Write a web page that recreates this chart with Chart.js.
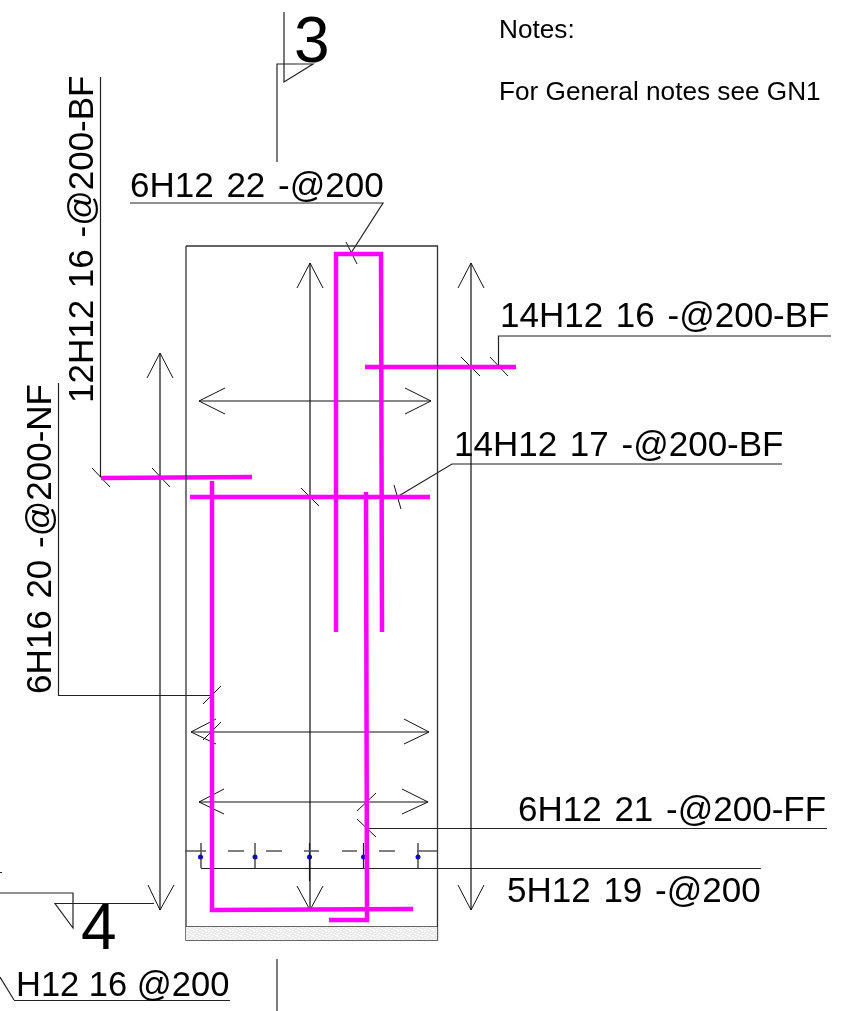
<!DOCTYPE html>
<html>
<head>
<meta charset="utf-8">
<title>Section 3-4</title>
<script src="https://cdn.jsdelivr.net/npm/chart.js@4/dist/chart.umd.min.js"></script>
<style>
  html, body { margin: 0; padding: 0; background: #fff; }
  canvas { display: block; }
</style>
</head>
<body>
<canvas id="chart-seccion" width="843" height="1011"></canvas>
<script>
// drawing units are the sheet's own x / y, each polyline is a list of [x, y]
const rebarBars = [
  [[336, 632], [336, 254], [381, 254], [382, 632]],
  [[365, 367], [516, 367]],
  [[101, 478], [252, 477]],
  [[190, 497], [430, 497]],
  [[212, 481], [212, 910], [413, 909]],
  [[366, 492], [367, 920], [329, 920]],
];

const concreteOutline = [
  [[186, 246], [437.5, 246], [437.5, 940], [186, 940], [186, 246]],
  [[186, 927], [437.5, 927]],
];

const coverBand = [[186, 927], [437.5, 927]];

const dimensionShafts = [
  [[310, 263], [310, 910]],
  [[160, 353], [160, 910]],
  [[471, 263], [471, 910]],
  [[199, 401], [431, 401]],
  [[191, 732], [429, 732]],
  [[199, 802], [428, 802]],
];

const arrowHeads = [
  [[297, 288], [310, 263], [323, 288]],
  [[297, 886], [310, 910], [323, 886]],
  [[147, 378], [160, 353], [173, 378]],
  [[148, 885], [160, 910], [174, 885]],
  [[458, 288], [471, 263], [484, 288]],
  [[458, 885], [471, 910], [484, 885]],
  [[225, 388], [199, 401], [225, 414]],
  [[405, 388], [431, 401], [405, 414]],
  [[216, 719], [191, 732], [216, 744]],
  [[404, 719], [429, 732], [404, 744]],
  [[224, 789], [199, 802], [224, 814]],
  [[402, 789], [428, 802], [402, 814]],
];

const barTicks = [
  [[92, 468], [110, 487]],
  [[152, 468], [170, 487]],
  [[301, 488], [319, 506]],
  [[394, 485], [401, 509]],
  [[346, 242], [357, 264]],
  [[461, 357], [480, 376]],
  [[490, 357], [508, 376]],
  [[203, 704], [221, 686]],
  [[203, 740], [221, 722]],
  [[357, 811], [376, 793]],
  [[357, 819], [376, 837]],
];

const leaderLines = [
  [[100.5, 77], [100.5, 477]],
  [[58.5, 383], [58.5, 695.5], [212, 695.5]],
  [[130, 203], [383, 203], [351, 253]],
  [[831, 336], [498.5, 336], [498.5, 367]],
  [[782, 464], [452, 464], [397, 497]],
  [[827, 828.5], [366, 828.5]],
  [[761, 868.5], [201, 868.5]],
  [[14, 1000.5], [230, 1000.5]],
  [[14, 1000], [0, 977]],
];

const sectionMarks = [
  [[284, 12], [284, 82], [313, 64], [277, 64], [277, 162]],
  [[0, 893], [73, 893], [73, 928], [55, 903.5], [154, 903.5]],
  [[277, 959], [277, 1011]],
  [[0, 872.5], [2, 872.5]],
];

const barPositionTicks = [
  [[201, 843], [201, 868]],
  [[255, 843], [255, 868]],
  [[309.5, 843], [309.5, 881]],
  [[363.5, 843], [363.5, 868]],
  [[418, 843], [418, 868]],
];

const hiddenLineDashes = [
  [[185, 851], [206, 851]],
  [[228, 851], [244, 851]],
  [[266, 851], [282, 851]],
  [[304, 851], [319, 851]],
  [[342, 851], [357, 851]],
  [[379, 851], [395, 851]],
  [[417, 851], [437, 851]],
];

const barDots = [[200.5, 857], [255, 857], [309.5, 857], [363.5, 857], [418, 857]];

const notesLabels = [
  ['Notes:', 499, 38],
  ['For General notes see GN1', 499, 100],
];

const barLabels = [
  ['6H12 22 -@200', 130, 197],
  ['14H12 16 -@200-BF', 500, 327],
  ['14H12 17 -@200-BF', 454, 456],
  ['6H12 21 -@200-FF', 518, 821],
  ['5H12 19 -@200', 507, 902],
];

const plainLabels = [
  ['H12 16 @200', 16, 996],
];

const sideLabels = [
  ['12H12 16 -@200-BF', 93, 403],
  ['6H16 20 -@200-NF', 51, 694],
];

const sectionLabels = [
  ['3', 294, 62],
  ['4', 81, 949],
];

const FONT = '"Liberation Sans", Arial, sans-serif';

function speckle(ctx) {
  const tile = document.createElement('canvas');
  tile.width = 12;
  tile.height = 6;
  const t = tile.getContext('2d');
  t.fillStyle = '#ececec';
  t.fillRect(0, 0, 12, 6);
  t.fillStyle = '#fdfdfd';
  [[1, 0], [4, 1], [7, 0], [10, 2], [2, 3], [6, 3], [9, 4], [0, 5], [4, 5], [11, 5]].forEach(s => t.fillRect(s[0], s[1], 2, 1));
  return ctx.createPattern(tile, 'repeat');
}

function lineSet(points, color, width, extra) {
  return Object.assign({
    data: points.map(p => ({ x: p[0], y: p[1] })),
    showLine: true,
    borderColor: color,
    borderWidth: width,
    pointRadius: 0,
    tension: 0,
    clip: false,
    fill: false,
    borderCapStyle: 'butt',
    borderJoinStyle: 'miter',
  }, extra || {});
}

const labelPlugin = {
  id: 'labelPlugin',
  afterDatasetsDraw(chart) {
    const { ctx, scales } = chart;
    const put = (list, size, angle, gap) => {
      ctx.save();
      ctx.fillStyle = '#000';
      ctx.font = `${size}px ${FONT}`;
      ctx.wordSpacing = `${gap}px`;
      ctx.textAlign = 'left';
      ctx.textBaseline = 'alphabetic';
      list.forEach(l => {
        ctx.save();
        ctx.translate(scales.x.getPixelForValue(l[1]), scales.y.getPixelForValue(l[2]));
        ctx.rotate(angle);
        ctx.fillText(l[0], 0, 0);
        ctx.restore();
      });
      ctx.restore();
    };
    put(notesLabels, 26.2, 0, 0);
    put(barLabels, 35, 0, 3);
    put(plainLabels, 34.5, 0, 0);
    put(sideLabels, 35, -Math.PI / 2, 2);
    put(sectionLabels, 64, 0, 0);
  },
};

const canvas = document.getElementById('chart-seccion');
const datasets = [
  lineSet(coverBand, 'rgba(0,0,0,0)', 0, { fill: { target: { value: 940 } }, backgroundColor: speckle(canvas.getContext('2d')) }),
  ...hiddenLineDashes.map(l => lineSet(l, '#555', 1.5)),
  ...concreteOutline.map(l => lineSet(l, '#333', 1.3)),
  ...rebarBars.map(l => lineSet(l, '#ff00ff', 4.5)),
  ...dimensionShafts.map(l => lineSet(l, '#111', 1.2)),
  ...arrowHeads.map(l => lineSet(l, '#111', 1)),
  ...barTicks.map(l => lineSet(l, '#111', 1)),
  ...leaderLines.map(l => lineSet(l, '#222', 1.2)),
  ...sectionMarks.map(l => lineSet(l, '#222', 1.2)),
  ...barPositionTicks.map(l => lineSet(l, '#222', 1.2)),
  {
    data: barDots.map(p => ({ x: p[0], y: p[1] })),
    showLine: false,
    pointRadius: 2.5,
    pointBackgroundColor: '#0000ff',
    pointBorderWidth: 0,
    clip: false,
  },
];

new Chart(canvas, {
  type: 'scatter',
  data: { datasets },
  options: {
    responsive: false,
    animation: false,
    layout: { padding: 0, autoPadding: false },
    plugins: { legend: { display: false }, tooltip: { enabled: false }, title: { display: false } },
    scales: {
      x: { type: 'linear', min: 0, max: 843, display: false },
      y: { type: 'linear', min: 0, max: 1011, reverse: true, display: false },
    },
  },
  plugins: [labelPlugin],
});
</script>
</body>
</html>
